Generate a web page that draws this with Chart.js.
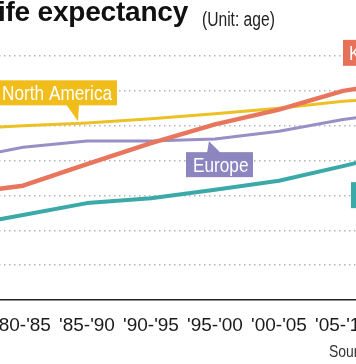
<!DOCTYPE html>
<html><head><meta charset="utf-8">
<script src="https://cdn.jsdelivr.net/npm/chart.js@4.4.1/dist/chart.umd.min.js"></script>
<style>
html,body{margin:0;padding:0;background:#fff;overflow:hidden;width:356px;height:364px;position:relative}
#wrap{position:absolute;left:-100px;top:0;width:560px;height:364px}
canvas{display:block}
.t{position:absolute;white-space:nowrap;color:#111}
.n{transform:scaleX(0.82);transform-origin:0 0}
</style></head><body>
<div id="wrap"><canvas id="c" width="560" height="364"></canvas></div>
<div class="t" style="left:-19px;top:-2px;font:bold 28px 'Liberation Sans',Arial,sans-serif;line-height:28px;letter-spacing:-0.2px">Life expectancy</div>
<div class="t n" style="left:202px;top:9px;font:20px 'Liberation Sans',Arial,sans-serif;line-height:20px;color:#222;transform:scaleX(0.78)">(Unit: age)</div>
<div class="t n" style="left:329px;top:342px;font:17px 'Liberation Sans',Arial,sans-serif;line-height:20px;color:#333">Source: United Nations</div>
<script>
// ---- data ----
const categories = ["'75-'80","'80-'85","'85-'90","'90-'95","'95-'00","'00-'05","'05-'10","'10-'15"];
const korea        = [65.2, 66.4, 69.5, 72.5, 75.2, 77.3, 80.0, 81.4];
const northAmerica = [74.5, 75.0, 75.4, 76.0, 76.7, 77.5, 78.5, 79.1];
const europe       = [70.1, 71.9, 72.8, 72.8, 73.1, 74.2, 75.9, 77.1];
const asia         = [60.5, 62.2, 63.9, 64.6, 65.8, 67.1, 69.2, 71.4];
const yTicks = {min: 50, max: 85, step: 5};

const C = {korea:'#E8765C', na:'#EDC024', eu:'#978FC6', asia:'#3AA9A8'};
const BOX = {korea:'#E8715A', na:'#F0BD1A', eu:'#8C85BF', asia:'#39AAAA'};
const SANS = "'Liberation Sans',Arial,sans-serif";

function interp(data, fi){const i=Math.floor(fi),f=fi-i;return data[i]+((data[i+1]??data[i])-data[i])*f;}

const callouts = {
  id:'callouts',
  afterDatasetsDraw(chart){
    const ctx=chart.ctx, xs=chart.scales.x, ys=chart.scales.y;
    const pt=(data,fi)=>({x:xs.getPixelForValue(fi), y:ys.getPixelForValue(interp(data,fi))});
    ctx.save();
    ctx.font = '21px '+SANS;
    ctx.textBaseline='alphabetic';
    function box(color,l,t,r,b,tri,text,tx){
      ctx.fillStyle=color;
      ctx.fillRect(l,t,r-l,b-t);
      if(tri){ctx.beginPath();ctx.moveTo(tri[0][0],tri[0][1]);ctx.lineTo(tri[1][0],tri[1][1]);ctx.lineTo(tri[2][0],tri[2][1]);ctx.closePath();ctx.fill();}
      ctx.fillStyle='#fff';
      ctx.save();
      ctx.translate(tx,(t+b)/2+7.5);
      ctx.scale(0.82,1);
      ctx.fillText(text,0,0);
      ctx.restore();
    }
    // North America
    let p=pt(northAmerica,1.86);
    box(BOX.na,p.x-160,p.y-43,p.x+39,p.y-18,[[p.x-12,p.y-19],[p.x+1,p.y-19],[p.x,p.y-2]],'North America',p.x-76);
    // Europe
    p=pt(europe,3.906);
    box(BOX.eu,p.x-23,p.y+13,p.x+44,p.y+38,[[p.x,p.y+2],[p.x-2,p.y+14],[p.x+12,p.y+14]],'Europe',p.x-16);
    // Korea
    p=pt(korea,6);
    box(BOX.korea,p.x,p.y-51,p.x+75,p.y-25,null,'Korea',p.x+6);
    // Asia
    p=pt(asia,6);
    box(BOX.asia,p.x+8,p.y+16,p.x+60,p.y+42,null,'Asia',p.x+14);
    ctx.restore();
  }
};

const ds=(label,data,color,w)=>({label,data,borderColor:color,backgroundColor:color,borderWidth:w,pointRadius:0,tension:0,borderJoinStyle:'round',borderCapStyle:'round',fill:false});

new Chart(document.getElementById('c'),{
  type:'line',
  data:{labels:categories,datasets:[
    ds('Korea',korea,C.korea,4.5),
    ds('Asia',asia,C.asia,4),
    ds('North America',northAmerica,C.na,3),
    ds('Europe',europe,C.eu,3)
  ]},
  options:{
    responsive:false,animation:false,devicePixelRatio:1,
    layout:{padding:{left:59,right:53,top:56,bottom:0}},
    plugins:{legend:{display:false},tooltip:{enabled:false},title:{display:false}},
    scales:{
      x:{type:'category',offset:false,
        grid:{display:false,drawTicks:false},
        border:{display:true,color:'#222',width:1.5},
        ticks:{color:'#1a1a1a',font:{family:SANS,size:19},padding:14,maxRotation:0,autoSkip:false},
        afterFit:s=>{s.height=64;}
      },
      y:{min:yTicks.min,max:yTicks.max,
        ticks:{display:false,stepSize:yTicks.step},
        grid:{drawTicks:false,lineWidth:1.5,color:c=>c.tick&&c.tick.value===yTicks.min?'rgba(0,0,0,0)':'#B4B4B4'},
        border:{display:false,dash:[1.5,3.5]},
        afterFit:s=>{s.width=0;}
      }
    }
  },
  plugins:[callouts]
});
</script>
</body></html>
